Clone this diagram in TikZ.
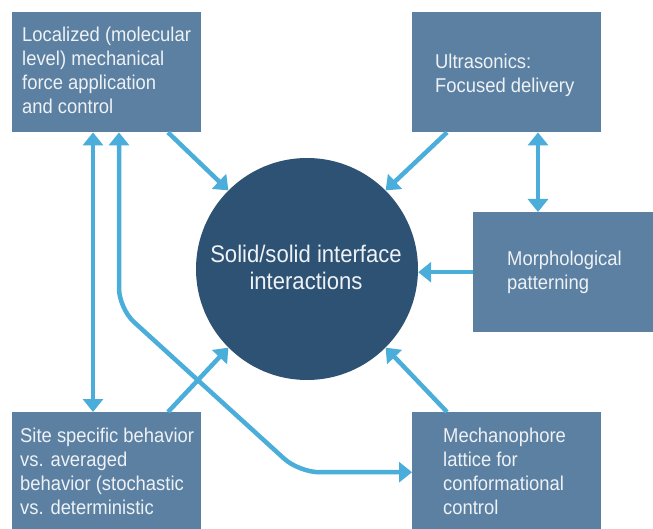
\documentclass[tikz,border=0pt]{standalone}
\usepackage{fontspec}
\setmainfont{Liberation Sans}[FakeStretch=0.92]
\usetikzlibrary{arrows.meta,calc}

\definecolor{boxblue}{HTML}{5B80A2}
\definecolor{coreblue}{HTML}{2E5273}
\definecolor{linkblue}{HTML}{4BAEDA}
\definecolor{labelwhite}{HTML}{EEF2F6}

\tikzset{
  topicbox/.style={draw=none, fill=boxblue, rectangle, anchor=north west,
    minimum width=189pt, minimum height=120pt, inner sep=0pt},
  topictext/.style={anchor=base west, align=left, inner sep=0pt,
    text=labelwhite, font=\fontsize{20}{24}\selectfont},
  link/.style={draw=linkblue, line width=4.5pt},
  linktip/.tip={Triangle[width=20pt,length=13pt]}
}

\begin{document}
\begin{tikzpicture}[x=1pt,y=-1pt]

  % Page size of the picture
  \useasboundingbox (0,0) rectangle (653,529);
  \clip (0,0) rectangle (653,529);

  % The central topic
  \node[circle, fill=coreblue, minimum size=222pt, inner sep=0pt] (core) at (307,269) {};
  % the base of a two-line text is its last line
  \node[align=center, text=labelwhite, inner sep=0pt, anchor=base,
    font=\fontsize{24}{27}\selectfont] (core-text) at (306,290)
    {Solid/solid interface\\interactions};

  % The five boxes round it
  \node[topicbox] (loc) at (12,12) {};
  \node[topicbox] (ultra) at (412,12) {};
  \node[topicbox, minimum width=200pt] (morph) at (473,212) {};
  \node[topicbox] (site) at (12,412) {};
  \node[topicbox] (mech) at (412,412) {};

  % Texts of the boxes (placed by their last line)
  \node[topictext] (loc-text) at ([shift={(10,102)}]loc.north west)
    {Localized (molecular\\level) mechanical\\force application\\and control};
  \node[topictext] (ultra-text) at ([shift={(23,81)}]ultra.north west)
    {Ultrasonics:\\Focused delivery};
  \node[topictext] (morph-text) at ([shift={(34,78)}]morph.north west)
    {Morphological\\patterning};
  \node[topictext] (site-text) at ([shift={(8,102)}]site.north west)
    {Site specific behavior\\vs. averaged\\behavior (stochastic\\vs. deterministic};
  \node[topictext] (mech-text) at ([shift={(31,102)}]mech.north west)
    {Mechanophore\\lattice for\\conformational\\control};

  % Arrows into the centre
  \draw[link, -linktip] ([xshift=156]loc.south west) -- (core.135);
  \draw[link, -linktip] ([xshift=35]ultra.south west) -- (core.45);
  \draw[link, -linktip] (morph.west) -- (morph.west -| core.east);
  \draw[link, -linktip] ([xshift=156]site.north west) -- (core.225);
  \draw[link, -linktip] ([xshift=35]mech.north west) -- (core.315);

  % Two-way arrows between boxes
  \coordinate (ultra-foot) at ([xshift=126]ultra.south west);
  \draw[link, linktip-linktip] (ultra-foot) -- (ultra-foot |- morph.north);
  \draw[link, linktip-linktip] ([xshift=81]loc.south west) -- ([xshift=81]site.north west);

  % The bent arrow from the top left box to the lower right one
  \coordinate (bend-a) at ([shift={(107,176)}]loc.south west);
  \coordinate (bend-b) at ([xshift=-113]mech.west);
  \draw[link, linktip-linktip, rounded corners=20pt]
    ([xshift=107]loc.south west) -- (bend-a) -- (bend-b) -- (mech.west);

\end{tikzpicture}
\end{document}
